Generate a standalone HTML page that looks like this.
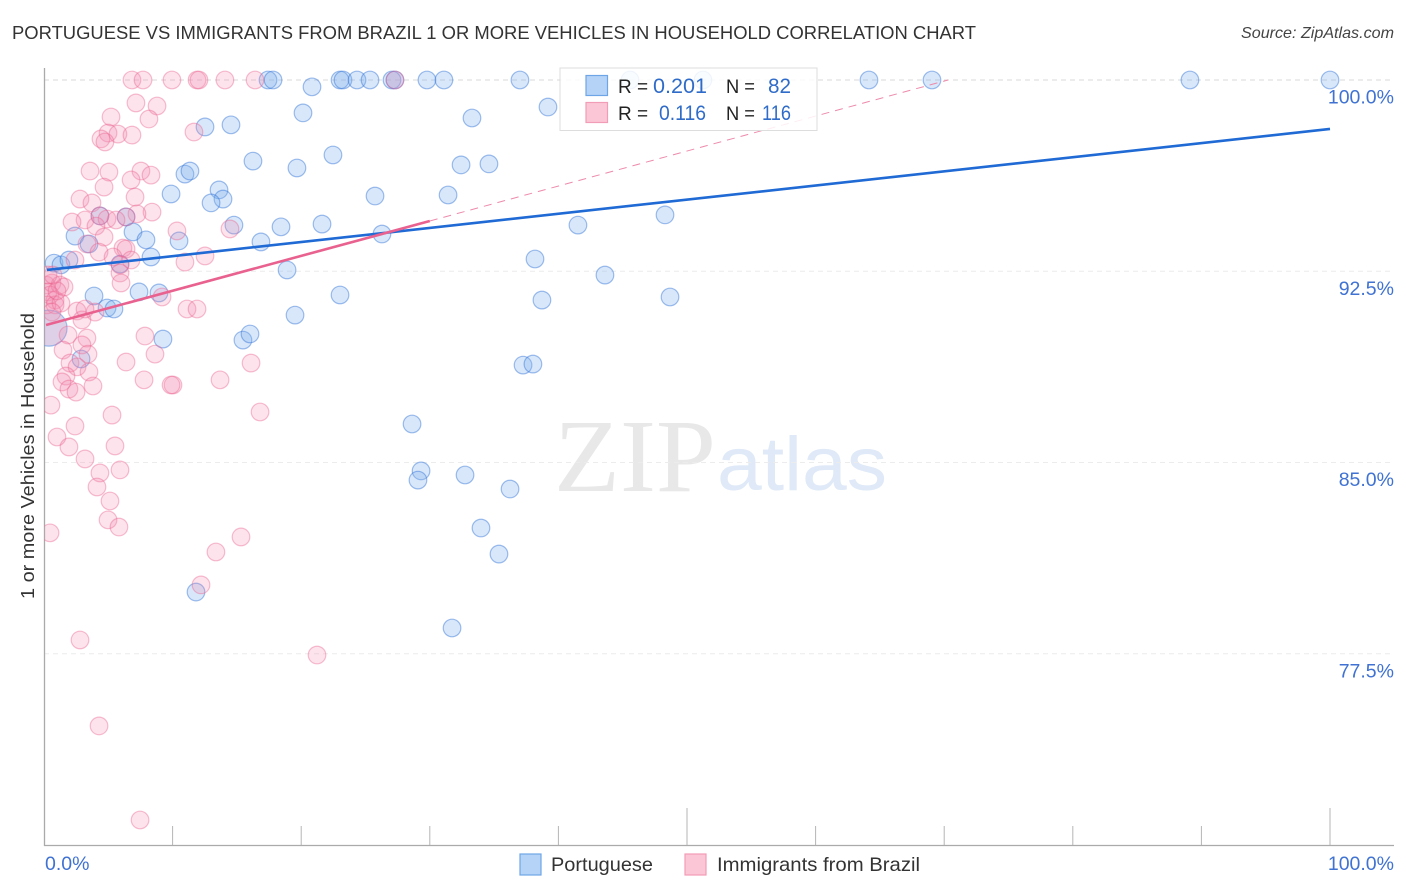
<!DOCTYPE html>
<html lang="en">
<head>
<meta charset="utf-8">
<title>Portuguese vs Immigrants from Brazil correlation chart</title>
<style>
html,body{margin:0;padding:0;background:#fff;width:1406px;height:892px;overflow:hidden}
svg{display:block}
text{font-family:"Liberation Sans",sans-serif}
</style>
</head>
<body>
<svg id="chart" width="1406" height="892" viewBox="0 0 1406 892" xmlns="http://www.w3.org/2000/svg">
  <defs><clipPath id="plot-clip"><rect x="44.5" y="60" width="1362" height="785"/></clipPath></defs>
  <text x="12" y="39" font-size="18.5" fill="#333" textLength="964" lengthAdjust="spacingAndGlyphs">PORTUGUESE VS IMMIGRANTS FROM BRAZIL 1 OR MORE VEHICLES IN HOUSEHOLD CORRELATION CHART</text>
  <text x="1394" y="38" font-size="16" font-style="italic" fill="#444" text-anchor="end" textLength="153" lengthAdjust="spacingAndGlyphs">Source: ZipAtlas.com</text>
  <text x="554" y="491" font-size="104" fill="#e8e8e8" style="font-family:'Liberation Serif',serif" textLength="162" lengthAdjust="spacingAndGlyphs">ZIP</text>
  <text x="717" y="490" font-size="76" fill="#dfe9f7" textLength="170" lengthAdjust="spacingAndGlyphs">atlas</text>
  <text transform="translate(34,456) rotate(-90)" font-size="18.5" fill="#333" text-anchor="middle" textLength="286" lengthAdjust="spacingAndGlyphs">1 or more Vehicles in Household</text>
  <g id="grid"></g>
  <g id="ticks"></g>
  <g id="axis-labels"></g>
  <line x1="44.5" y1="68" x2="44.5" y2="846" stroke="#aaa" stroke-width="1.3"/>
  <line x1="44" y1="845.5" x2="1394" y2="845.5" stroke="#aaa" stroke-width="1.3"/>
  <g id="blue-points" clip-path="url(#plot-clip)"></g>
  <g id="pink-points" clip-path="url(#plot-clip)"></g>
  <g id="trends"></g>

  <g>
    <rect x="560" y="68" width="257" height="62.5" fill="#fff" fill-opacity="0.85" stroke="#ddd" stroke-width="1"/>
    <rect x="586" y="75.5" width="21.5" height="20" fill="#b5d3f7" stroke="#6ea5e6" stroke-width="1.2"/>
    <rect x="586" y="102.5" width="21.5" height="20" fill="#fbc6d6" stroke="#f29db8" stroke-width="1.2"/>
    <text x="618" y="93" font-size="19" fill="#222">R =</text>
    <text x="653" y="93" font-size="21" fill="#2f6cc9" textLength="54" lengthAdjust="spacingAndGlyphs">0.201</text>
    <text x="726" y="93" font-size="19" fill="#222" textLength="29" lengthAdjust="spacingAndGlyphs">N =</text>
    <text x="768" y="93" font-size="21" fill="#2f6cc9" textLength="23" lengthAdjust="spacingAndGlyphs">82</text>
    <text x="618" y="120" font-size="19" fill="#222">R =</text>
    <text x="659" y="120" font-size="21" fill="#2f6cc9" textLength="47" lengthAdjust="spacingAndGlyphs">0.116</text>
    <text x="726" y="120" font-size="19" fill="#222" textLength="29" lengthAdjust="spacingAndGlyphs">N =</text>
    <text x="762" y="120" font-size="21" fill="#2f6cc9" textLength="29" lengthAdjust="spacingAndGlyphs">116</text>
  </g>

  <g>
    <rect x="520" y="854" width="21" height="21" fill="#b5d3f7" stroke="#6ea5e6" stroke-width="1.2"/>
    <text x="551" y="871" font-size="19.5" fill="#333" textLength="102" lengthAdjust="spacingAndGlyphs">Portuguese</text>
    <rect x="685" y="854" width="21" height="21" fill="#fbc6d6" stroke="#f29db8" stroke-width="1.2"/>
    <text x="717" y="871" font-size="19.5" fill="#333" textLength="203" lengthAdjust="spacingAndGlyphs">Immigrants from Brazil</text>
  </g>
</svg>
<script>
const xTickValues = [0,10,20,30,40,50,60,70,80,90,100];
const xMajorTicks = [50,100];
const yGridValues = [100,92.5,85,77.5];
const yTickLabels = ["100.0%","92.5%","85.0%","77.5%"];
const xEndLabels = ["0.0%","100.0%"];

const blueX = [17.42,17.81,23.02,23.25,24.34,25.35,27.06,27.29,29.78,31.1,37.01,45.57,51.24,64.15,69.05,89.11,100,
20.84,20.14,12.52,14.54,39.19,33.28,22.47,16.25,19.67,32.43,34.60,10.96,11.35,9.88,13.61,13.92,12.99,25.74,31.42,48.29,4.35,6.38,14.77,18.43,21.62,41.52,2.41,6.92,7.93,10.50,3.50,16.87,26.28,0.78,1.32,1.94,5.91,8.32,18.90,38.18,43.62,7.39,8.94,3.89,23.02,48.68,38.72,4.90,5.44,19.52,9.25,15.47,16.02,2.88,37.25,38.02,28.62,29.32,29.08,32.74,36.24,33.98,35.38,11.82,31.73];
const blueY = [100,100,100,100,100,100,100,100,100,100,100,100,100,100,100,100,100,
99.73,98.71,98.16,98.24,98.94,98.51,97.06,96.82,96.55,96.67,96.71,96.31,96.43,95.53,95.69,95.33,95.18,95.45,95.49,94.71,94.67,94.63,94.31,94.24,94.35,94.31,93.88,94.04,93.73,93.69,93.57,93.65,93.96,92.82,92.75,92.94,92.78,93.06,92.55,92.98,92.35,91.69,91.65,91.53,91.57,91.49,91.37,91.06,91.02,90.78,89.84,89.80,90.04,89.06,88.82,88.86,86.51,84.67,84.31,84.51,83.96,82.43,81.41,79.92,78.51];

const pinkX = [6.84,7.70,9.95,11.90,12.05,14.07,16.41,27.29,
7.15,8.79,5.21,8.16,4.98,5.75,6.84,4.43,4.74,11.66,3.58,5.05,7.54,8.32,6.77,4.67,7.08,2.80,3.73,8.40,7.23,6.38,4.35,4.90,5.60,3.19,2.18,10.34,14.46,4.04,4.67,3.34,4.28,10.96,12.52,6.14,6.38,5.37,6.77,5.91,5.91,5.99,2.41,9.18,11.12,11.90,
0.16,0.31,0.62,0.86,1.24,1.56,0.47,0.23,0.86,1.32,0.62,0.31,1.01,0.70,2.57,3.97,2.95,3.19,
1.87,3.34,2.95,1.48,3.42,7.85,8.63,6.38,2.02,2.57,3.50,1.71,1.40,1.94,2.49,3.81,7.78,10.03,9.88,13.69,16.10,0.54,5.29,16.80,2.41,1.01,1.94,5.52,3.19,5.91,4.35,4.12,5.13,4.98,5.83,0.47,15.32,13.37,12.21,2.80,4.28,21.23,7.47];
const pinkY = [100,100,100,100,100,100,100,100,
99.10,98.98,98.55,98.47,97.92,97.88,97.84,97.69,97.57,97.96,96.43,96.39,96.43,96.27,96.08,95.80,95.41,95.33,95.18,94.82,94.75,94.63,94.67,94.55,94.51,94.51,94.43,94.08,94.16,94.27,93.84,93.57,93.25,92.86,93.10,93.41,93.37,93.06,92.94,92.75,92.43,92.04,92.94,91.49,91.02,91.02,
91.96,91.69,92.04,91.37,91.96,91.88,91.57,91.18,91.18,91.25,90.90,92.35,91.73,92.35,90.94,90.90,90.59,91.02,
90.0,89.88,89.61,89.41,89.25,89.96,89.25,88.94,88.90,88.75,88.55,88.39,88.16,87.88,87.76,88.0,88.24,88.04,88.04,88.24,88.90,87.25,86.86,86.98,86.43,86.0,85.61,85.65,85.14,84.71,84.59,84.04,83.49,82.75,82.47,82.24,82.08,81.49,80.20,78.04,74.67,77.45,70.98];

const blueLargeX = [0.39];
const blueLargeY = [90.27];
const pinkLargeX = [0.39];
const pinkLargeY = [90.27];

const blueTrendX = [0.23,100];
const blueTrendY = [92.55,98.08];
const pinkTrendX = [0.16,30];
const pinkTrendY = [90.39,94.47];
const pinkDashX = [30,70.3];
const pinkDashY = [94.47,100];

const SVG_NS = "http://www.w3.org/2000/svg";
function xScale(v){ return 44 + v * 12.86; }
function yScale(v){ return 80 + (100 - v) * 25.5; }
function make(tag, parentId){
  const el = document.createElementNS(SVG_NS, tag);
  document.getElementById(parentId).appendChild(el);
  return el;
}

yGridValues.forEach(function(v, i){
  const g = make("line", "grid");
  
  
  g.setAttribute("x1", 44);
  g.setAttribute("x2", 1394);
  g.setAttribute("y1", yScale(v));
  g.setAttribute("y2", yScale(v));
  g.setAttribute("stroke", i === 0 ? "#d8d8d8" : "#ececec");
  g.setAttribute("stroke-width", 1);
  g.setAttribute("stroke-dasharray", "5 4");

  const t = make("text", "axis-labels");
  
  
  t.setAttribute("x", 1394);
  t.setAttribute("y", yScale(v) + 23.5);
  t.setAttribute("text-anchor", "end");
  t.setAttribute("font-size", 19.5);
  t.setAttribute("fill", "#3f72d2");
  t.textContent = yTickLabels[i];
});

xTickValues.forEach(function(v){
  if (v === 0) return;
  const tk = make("line", "ticks");
  
  
  tk.setAttribute("x1", xScale(v));
  tk.setAttribute("x2", xScale(v));
  tk.setAttribute("y1", xMajorTicks.indexOf(v) >= 0 ? 808 : 826);
  tk.setAttribute("y2", 846);
  tk.setAttribute("stroke", "#b5b5b5");
  tk.setAttribute("stroke-width", 1);
});

xEndLabels.forEach(function(label, i){
  const t = make("text", "axis-labels");
  
  
  t.setAttribute("x", i === 0 ? 45 : 1394);
  t.setAttribute("y", 870);
  t.setAttribute("text-anchor", i === 0 ? "start" : "end");
  t.setAttribute("font-size", 19.5);
  t.setAttribute("fill", "#3f72d2");
  t.textContent = label;
});

function drawBlue(xs, ys, r){
  xs.forEach(function(v, i){
    const c = make("circle", "blue-points");
    
    
    c.setAttribute("cx", xScale(v));
    c.setAttribute("cy", yScale(ys[i]));
    c.setAttribute("r", r);
    c.setAttribute("fill", "#7eb0ec");
    c.setAttribute("fill-opacity", 0.3);
    c.setAttribute("stroke", "#2f72d8");
    c.setAttribute("stroke-opacity", 0.45);
    c.setAttribute("stroke-width", 1.2);
  });
}
function drawPink(xs, ys, r, strokeOpacity){
  xs.forEach(function(v, i){
    const c = make("circle", "pink-points");
    
    
    c.setAttribute("cx", xScale(v));
    c.setAttribute("cy", yScale(ys[i]));
    c.setAttribute("r", r);
    c.setAttribute("fill", "#f28cae");
    c.setAttribute("fill-opacity", 0.24);
    c.setAttribute("stroke", "#ea5f8c");
    c.setAttribute("stroke-opacity", strokeOpacity);
    c.setAttribute("stroke-width", 1.2);
  });
}
drawBlue(blueX, blueY, 8.8);
drawBlue(blueLargeX, blueLargeY, 18);
drawPink(pinkX, pinkY, 8.8, 0.4);
drawPink(pinkLargeX, pinkLargeY, 17.5, 0);

const dash = make("line", "trends");


dash.setAttribute("x1", xScale(pinkDashX[0]));
dash.setAttribute("y1", yScale(pinkDashY[0]));
dash.setAttribute("x2", xScale(pinkDashX[1]));
dash.setAttribute("y2", yScale(pinkDashY[1]));
dash.setAttribute("stroke", "#ee8aab");
dash.setAttribute("stroke-width", 1);
dash.setAttribute("stroke-dasharray", "8 6");

const blueTrend = make("line", "trends");


blueTrend.setAttribute("x1", xScale(blueTrendX[0]));
blueTrend.setAttribute("y1", yScale(blueTrendY[0]));
blueTrend.setAttribute("x2", xScale(blueTrendX[1]));
blueTrend.setAttribute("y2", yScale(blueTrendY[1]));
blueTrend.setAttribute("stroke", "#1f6ad4");
blueTrend.setAttribute("stroke-width", 2.6);

const pinkTrend = make("line", "trends");


pinkTrend.setAttribute("x1", xScale(pinkTrendX[0]));
pinkTrend.setAttribute("y1", yScale(pinkTrendY[0]));
pinkTrend.setAttribute("x2", xScale(pinkTrendX[1]));
pinkTrend.setAttribute("y2", yScale(pinkTrendY[1]));
pinkTrend.setAttribute("stroke", "#e9628f");
pinkTrend.setAttribute("stroke-width", 2.6);
</script>
</body>
</html>
